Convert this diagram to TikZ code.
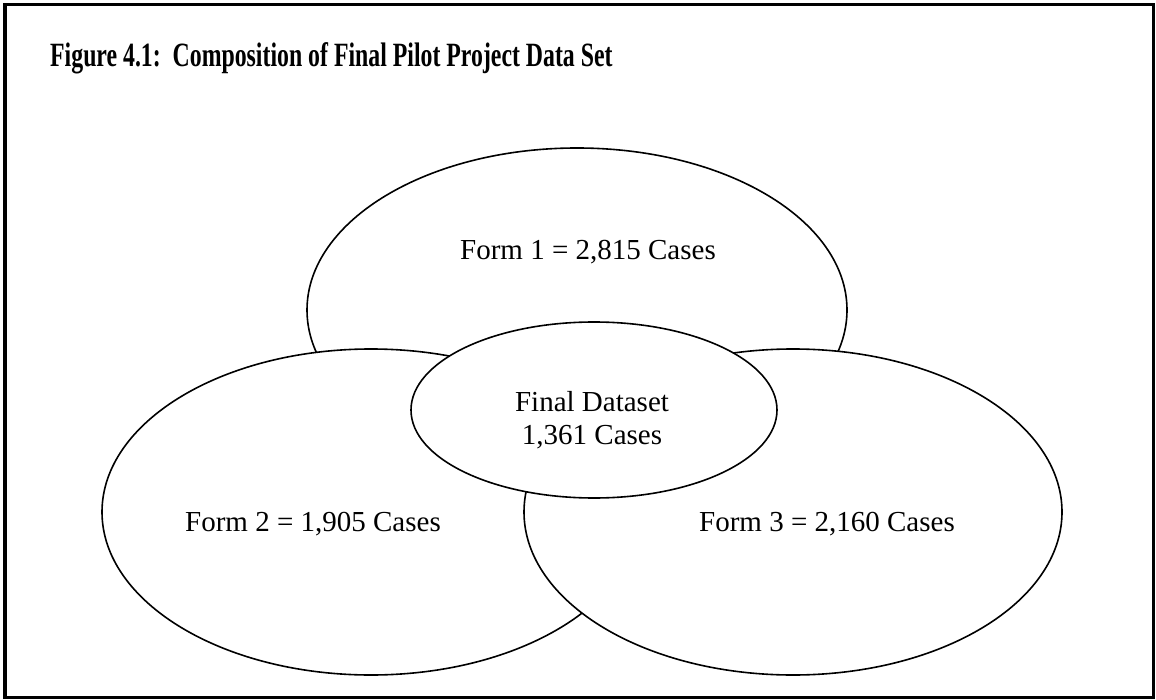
\documentclass[tikz,border=0pt]{standalone}
\usepackage{fontspec}
\setmainfont{Liberation Serif}
\usetikzlibrary{shapes.geometric}
\begin{document}
\begin{tikzpicture}[x=1pt,y=-1pt,
  setshape/.style={draw=black, fill=white, ellipse, line width=1.6pt, inner sep=0pt},
  bodytext/.style={anchor=base, font=\fontsize{29}{35}\selectfont, inner sep=0pt},
  titletext/.style={anchor=base west, font=\fontsize{34}{40}\selectfont\bfseries, inner sep=0pt}]
  \useasboundingbox (0,0) rectangle (1156,700);
  % outer frame
  \draw[line width=3.8pt] (5,4.5) rectangle (1153.5,697.5);
  % title, set in a narrowed bold face
  \node[titletext] (title) at (50,67) {\scalebox{0.7}[1]{Figure 4.1:\ \ Composition of Final Pilot Project Data Set}};
  % the three forms, drawn back to front, then the overlap on top
  \node[setshape, minimum width=540pt, minimum height=324pt] (form1) at (577,310) {};
  \node[setshape, minimum width=538pt, minimum height=326pt] (form2) at (371,512) {};
  \node[setshape, minimum width=538pt, minimum height=326pt] (form3) at (793,512) {};
  \node[setshape, minimum width=366pt, minimum height=176pt] (final) at (594,410) {};
  % labels
  \node[bodytext] (l1) at (588,260) {Form 1 = 2,815 Cases};
  \node[bodytext] (l2) at (313,531) {Form 2 = 1,905 Cases};
  \node[bodytext] (l3) at (827,531) {Form 3 = 2,160 Cases};
  \node[bodytext] (lf1) at (592,411) {Final Dataset};
  \node[bodytext] (lf2) at (592,444) {1,361 Cases};
\end{tikzpicture}
\end{document}
